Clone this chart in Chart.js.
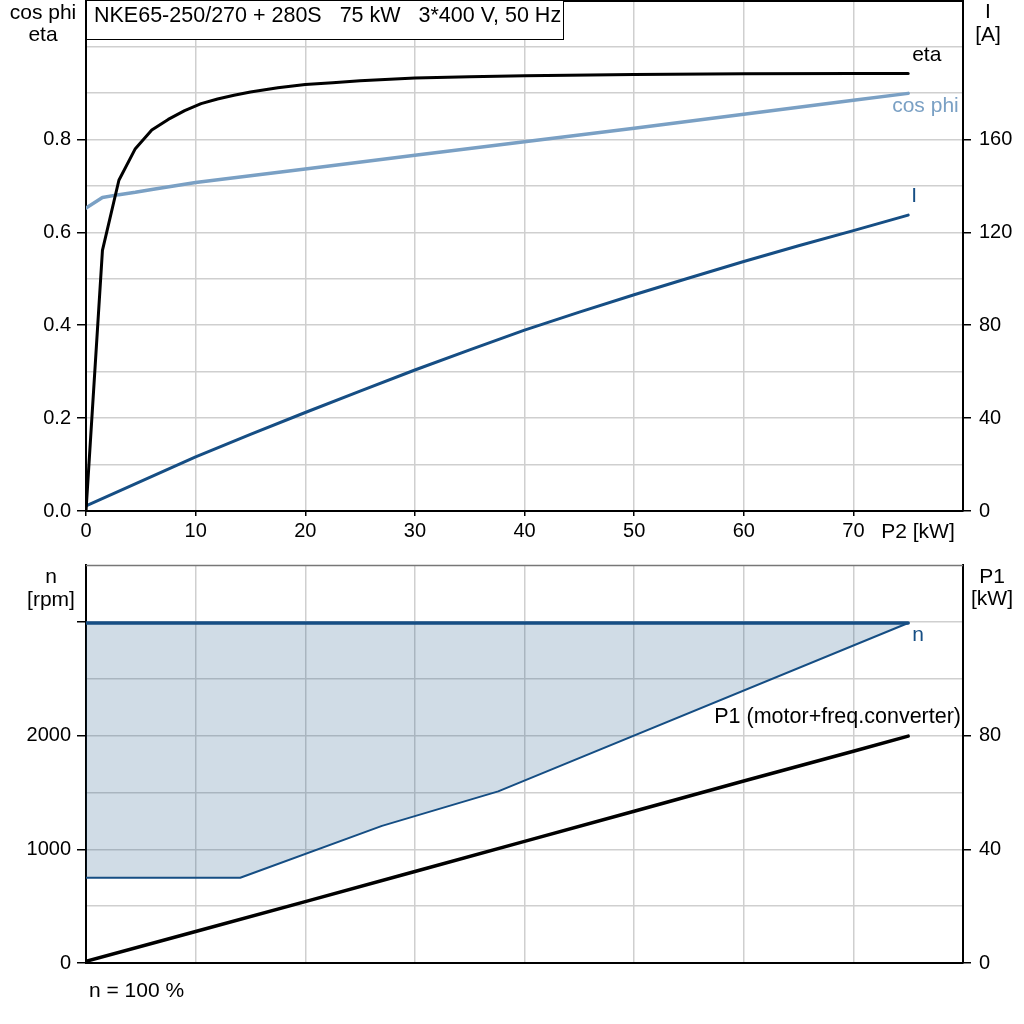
<!DOCTYPE html>
<html><head><meta charset="utf-8">
<script src="https://cdn.jsdelivr.net/npm/chart.js@4.4.0/dist/chart.umd.min.js"></script>
<style>
html,body{margin:0;padding:0;background:#fff;}
#wrap{position:relative;width:1024px;height:1024px;overflow:hidden;background:#fff;}
#c1{position:absolute;left:0;top:0;width:1024px;height:545px;}
#c2{position:absolute;left:0;top:545px;width:1024px;height:479px;}
</style></head><body>
<div id="wrap"><canvas id="c1" width="1024" height="545"></canvas><canvas id="c2" width="1024" height="479"></canvas></div>
<script>
// ---- data ----
const titleText = "NKE65-250/270 + 280S   75 kW   3*400 V, 50 Hz";
const p2Eta  = [0, 1.5, 3, 4.5, 6, 7.5, 9, 10.5, 12, 13.5, 15, 17.5, 20, 22.5, 25, 30, 35, 40, 50, 60, 70, 75];
const etaVals = [0, 0.561, 0.712, 0.78, 0.82, 0.843, 0.862, 0.877, 0.887, 0.895, 0.902, 0.911, 0.918, 0.922, 0.926, 0.932, 0.935, 0.937, 0.9395, 0.941, 0.942, 0.942];
const p2Cos  = [0, 1.5, 3, 4.5, 6, 10, 20, 30, 40, 50, 60, 70, 75];
const cosVals = [0.652, 0.675, 0.681, 0.686, 0.692, 0.707, 0.736, 0.766, 0.795, 0.824, 0.854, 0.884, 0.899];
const p2I    = [0, 5, 10, 15, 20, 25, 30, 35, 40, 45, 50, 55, 60, 65, 70, 75];
const iVals  = [2.2, 12.8, 23.3, 33, 42.4, 51.6, 60.7, 69.4, 77.9, 85.6, 93.1, 100.3, 107.4, 114.2, 120.7, 127.4];
const p2NMax = [0, 75];
const nMaxVals = [2990, 2990];
const p2NMin = [0, 14.07, 27, 37.6, 75];
const nMinVals = [750, 750, 1206, 1509, 2990];
const p2P1   = [0, 10, 20, 30, 40, 50, 60, 70, 75];
const p1Vals = [0.6, 11.1, 21.6, 32.2, 42.8, 53.4, 64.0, 74.5, 79.8];
// tick labels
const xTickLabels   = [0, 10, 20, 30, 40, 50, 60, 70];
const etaTickLabels = [0, 0.2, 0.4, 0.6, 0.8];
const iTickLabels   = [0, 40, 80, 120, 160];
const nTickLabels   = [0, 1000, 2000];
const nTickMarks    = [0, 1000, 2000, 3000];
const p1TickLabels  = [0, 40, 80];

// ---- styling ----
const FONT = "'Liberation Sans', Arial, Helvetica, sans-serif";
Chart.defaults.font.family = FONT;
Chart.defaults.font.size = 20;
Chart.defaults.color = '#000';
const GRID = '#cfcfcf';
const DARK = '#164e84';
const LIGHT = '#7aa0c4';
const NONE = 'rgba(0,0,0,0)';

function pts(xs, ys){ return xs.map((x,i)=>({x:x, y:ys[i]})); }
function has(list, v){ return list.some(t => Math.abs(t - v) < 1e-6); }
function fmt1(v){ return v.toFixed(1); }

function txt(c, s, x, y, align, color, size){
  c.font = (size||20) + 'px ' + FONT;
  c.fillStyle = color || '#000';
  c.textAlign = align || 'left';
  c.textBaseline = 'middle';
  c.fillText(s, x, y);
}

function yScale(pos, min, max, step, labels, marks, width, fmt, drawGrid, tl, pad){
  return {
    type:'linear', position:pos, min:min, max:max,
    ticks:{stepSize:step, autoSkip:false, padding:pad,
      callback:(v)=> has(labels, v) ? (fmt ? fmt(v) : String(v)) : ''},
    grid:{drawOnChartArea:drawGrid, lineWidth:1.5, tickLength:tl, tickWidth:1.5,
      color:(ctx)=> (ctx.tick && (Math.abs(ctx.tick.value-min)<1e-6 || Math.abs(ctx.tick.value-max)<1e-6)) ? NONE : GRID,
      tickColor:(ctx)=> (ctx.tick && has(marks, ctx.tick.value)) ? '#000' : NONE},
    border:{display:true, color:'#000', width:2},
    afterFit:(s)=>{ s.width = width; s.paddingTop = 0; s.paddingBottom = 0; }
  };
}

function xScale(showLabels, height){
  return {
    type:'linear', position:'bottom', min:0, max:80,
    ticks:{stepSize:10, autoSkip:false, maxRotation:0, padding:3, display:showLabels,
      callback:(v)=> has(xTickLabels, v) ? String(v) : ''},
    grid:{lineWidth:1.5, drawTicks:showLabels, tickLength:5, tickWidth:1.5,
      color:(ctx)=> (ctx.tick && (ctx.tick.value===0 || ctx.tick.value===80)) ? NONE : GRID,
      tickColor:(ctx)=> (ctx.tick && ctx.tick.value<80) ? '#000' : NONE},
    border:{display:true, color:'#000', width:2},
    afterFit:(s)=>{ s.height = height; s.paddingLeft = 0; s.paddingRight = 0; }
  };
}

const baseOpts = {
  responsive:false, animation:false, devicePixelRatio:1,
  elements:{point:{radius:0}, line:{tension:0, borderCapStyle:'round', borderJoinStyle:'round'}},
  plugins:{legend:{display:false}, tooltip:{enabled:false}, title:{display:false}}
};

// ---- top chart text / frame ----
const topText = { id:'topText', afterDraw(chart){
  const c = chart.ctx, a = chart.chartArea, xs = chart.scales.x, ys = chart.scales.y, ys1 = chart.scales.y1;
  c.save();
  c.strokeStyle = '#000'; c.lineWidth = 2;
  c.beginPath(); c.moveTo(a.left, a.top+1); c.lineTo(a.right+1, a.top+1); c.stroke();
  // title box
  c.fillStyle = '#fff'; c.fillRect(a.left, 0, 477, 39);
  c.lineWidth = 1; c.strokeRect(a.left+0.5, 0.5, 477, 39);
  txt(c, titleText, a.left+8, 16, 'left', '#000', 21.5);
  // axis titles
  txt(c, 'cos phi', 43, 13, 'center', '#000', 21);
  txt(c, 'eta', 43, 35, 'center', '#000', 21);
  txt(c, 'I', 988, 12, 'center', '#000', 21);
  txt(c, '[A]', 988, 35, 'center', '#000', 21);
  txt(c, 'P2 [kW]', 918, 532, 'center', '#000', 21);
  // curve labels
  const xe = xs.getPixelForValue(75);
  txt(c, 'eta', xe+4, ys.getPixelForValue(etaVals[etaVals.length-1]) - 18, 'left', '#000', 21);
  txt(c, 'cos phi', xe-16, ys.getPixelForValue(cosVals[cosVals.length-1]) + 13, 'left', LIGHT, 21);
  txt(c, 'I', xe+3, ys1.getPixelForValue(iVals[iVals.length-1]) - 19, 'left', DARK, 21);
  c.restore();
}};

new Chart(document.getElementById('c1'), {
  type:'line',
  data:{datasets:[
    {label:'eta', data:pts(p2Eta, etaVals), yAxisID:'y', borderColor:'#000', borderWidth:3},
    {label:'cos phi', data:pts(p2Cos, cosVals), yAxisID:'y', borderColor:LIGHT, borderWidth:3.5},
    {label:'I', data:pts(p2I, iVals), yAxisID:'y1', borderColor:DARK, borderWidth:3}
  ]},
  options:Object.assign({}, baseOpts, {
    layout:{padding:{top:0, left:0, right:0, bottom:0}},
    scales:{
      x: xScale(true, 34),
      y: yScale('left', 0, 1.1, 0.1, etaTickLabels, etaTickLabels, 86, fmt1, true, 9, 6),
      y1: yScale('right', 0, 220, 20, iTickLabels, iTickLabels, 61, null, false, 8, 8)
    }
  }),
  plugins:[topText]
});

// ---- bottom chart ----
const botText = { id:'botText', afterDraw(chart){
  const c = chart.ctx, a = chart.chartArea, xs = chart.scales.x, ys = chart.scales.y, ys1 = chart.scales.y1;
  c.save();
  c.strokeStyle = '#777'; c.lineWidth = 1.5;
  c.beginPath(); c.moveTo(a.left, a.top+0.5); c.lineTo(a.right, a.top+0.5); c.stroke();
  txt(c, 'n', 51, 32, 'center', '#000', 21);
  txt(c, '[rpm]', 51, 55, 'center', '#000', 21);
  txt(c, 'P1', 992, 32, 'center', '#000', 21);
  txt(c, '[kW]', 992, 54, 'center', '#000', 21);
  const xe = xs.getPixelForValue(75);
  txt(c, 'n', xe+4, ys.getPixelForValue(nMaxVals[nMaxVals.length-1]) + 12, 'left', DARK, 21);
  txt(c, 'P1 (motor+freq.converter)', 961, ys1.getPixelForValue(p1Vals[p1Vals.length-1]) - 19, 'right', '#000', 21.5);
  txt(c, 'n = 100 %', 89, 446, 'left', '#000', 21);
  c.restore();
}};

new Chart(document.getElementById('c2'), {
  type:'line',
  data:{datasets:[
    {label:'n', data:pts(p2NMax, nMaxVals), yAxisID:'y', borderColor:DARK, borderWidth:3.5,
      fill:'+1', backgroundColor:'rgba(22,78,132,0.2)'},
    {label:'n min', data:pts(p2NMin, nMinVals), yAxisID:'y', borderColor:DARK, borderWidth:2, fill:false},
    {label:'P1', data:pts(p2P1, p1Vals), yAxisID:'y1', borderColor:'#000', borderWidth:3.5, fill:false}
  ]},
  options:Object.assign({}, baseOpts, {
    layout:{padding:{top:20, left:0, right:0, bottom:0}},
    scales:{
      x: xScale(false, 61),
      y: yScale('left', 0, 3500, 500, nTickLabels, nTickMarks, 86, null, true, 9, 6),
      y1: yScale('right', 0, 140, 20, p1TickLabels, p1TickLabels, 61, null, false, 8, 8)
    }
  }),
  plugins:[botText]
});
</script>
</body></html>
